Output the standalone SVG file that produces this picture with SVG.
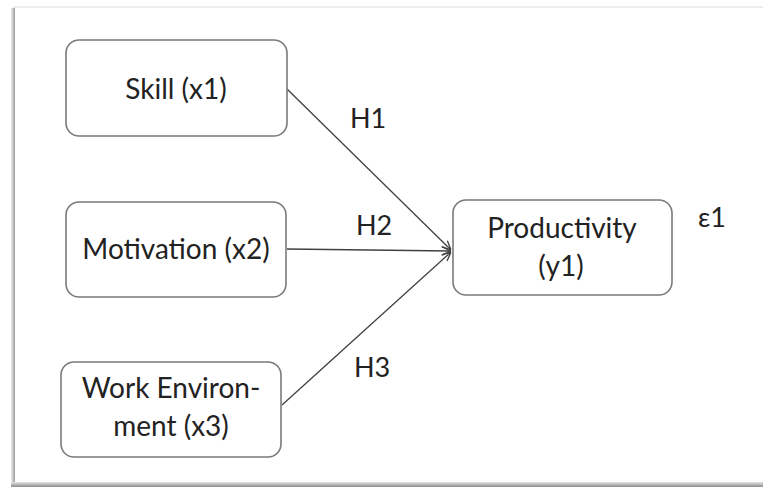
<svg xmlns="http://www.w3.org/2000/svg" width="763" height="487" viewBox="0 0 763 487">
  <defs>
    <linearGradient id="shL" x1="0" y1="0" x2="1" y2="0">
      <stop offset="0" stop-color="#f0f0f0"/>
      <stop offset="1" stop-color="#9a9a9a"/>
    </linearGradient>
    <linearGradient id="shB" x1="0" y1="0" x2="0" y2="1">
      <stop offset="0" stop-color="#e6e6e6"/>
      <stop offset="1" stop-color="#8c8c8c"/>
    </linearGradient>
    <marker id="arr" viewBox="0 0 10 10" refX="10" refY="5" markerWidth="10" markerHeight="10" markerUnits="userSpaceOnUse" orient="auto">
      <path d="M1,1 L10,5 L1,9" fill="none" stroke="#404040" stroke-width="1.3"/>
    </marker>
  </defs>
  <style>
    .box { fill: #ffffff; stroke: #7a7a7a; stroke-width: 1.6; }
    .lbl { font-family: Lato, "Liberation Sans", sans-serif; font-size: 28px; fill: #222222; text-anchor: middle; }
    .hl { font-family: Lato, "Liberation Sans", sans-serif; font-size: 27px; fill: #222222; }
    .conn { stroke: #404040; stroke-width: 1.3; fill: none; marker-end: url(#arr); }
  </style>
  <rect x="0" y="0" width="763" height="487" fill="#ffffff"/>
  <g id="frame">
    <rect x="13" y="6" width="750" height="2" fill="#ededed"/>
    <rect x="11" y="8" width="4" height="478" fill="url(#shL)"/>
    <rect x="11" y="482" width="752" height="5" fill="url(#shB)"/>
  </g>
  <g id="connectors">
    <line class="conn" x1="287" y1="89" x2="451" y2="250"/>
    <line class="conn" x1="287" y1="249" x2="451" y2="251"/>
    <line class="conn" x1="282" y1="405" x2="451" y2="252"/>
    <text class="hl" x="350" y="128">H1</text>
    <text class="hl" x="356" y="235">H2</text>
    <text class="hl" x="354" y="377">H3</text>
  </g>
  <g id="skill">
    <rect class="box" x="66" y="40" width="221" height="96" rx="13"/>
    <text class="lbl" x="176" y="99">Skill (x1)</text>
  </g>
  <g id="motivation">
    <rect class="box" x="66" y="202" width="220" height="95" rx="13"/>
    <text class="lbl" x="176" y="259">Motivation (x2)</text>
  </g>
  <g id="workenv">
    <rect class="box" x="61" y="362" width="220" height="95" rx="13"/>
    <text class="lbl" x="171" y="398">Work Environ-</text>
    <text class="lbl" x="171" y="436">ment (x3)</text>
  </g>
  <g id="productivity">
    <rect class="box" x="453" y="200" width="219" height="95" rx="13"/>
    <text class="lbl" x="562" y="238">Productivity</text>
    <text class="lbl" x="561" y="276">(y1)</text>
  </g>
  <g id="epsilon">
    <text class="hl" x="698" y="227">ε1</text>
  </g>
</svg>
